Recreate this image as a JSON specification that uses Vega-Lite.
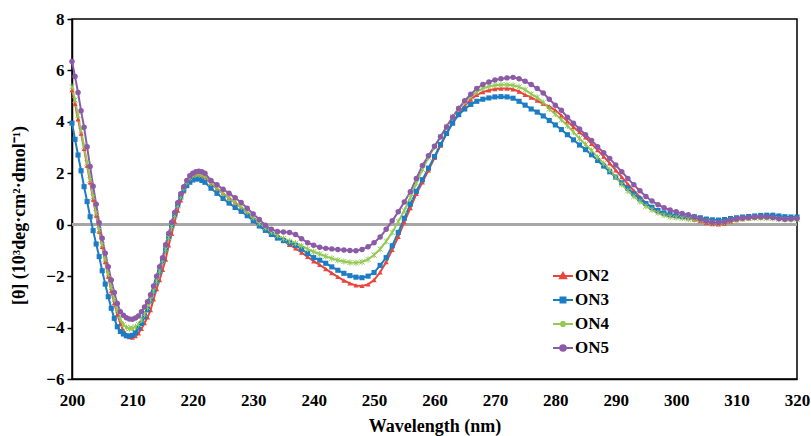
{
  "$schema": "https://vega.github.io/schema/vega-lite/v6.json",
  "width": 725,
  "height": 360,
  "autosize": {"type": "none"},
  "padding": {"left": 72, "top": 19, "right": 14, "bottom": 57},
  "background": "white",
  "config": {
    "view": {"stroke": "black", "strokeWidth": 1.5},
    "font": "Liberation Serif",
    "axis": {"grid": false, "labelFlush": false, "domainColor": "black", "domainWidth": 1.5, "tickColor": "black", "tickWidth": 1.5, "labelFont": "Liberation Serif", "labelFontWeight": "bold", "labelFontSize": 17, "labelColor": "black", "titleFont": "Liberation Serif", "titleFontWeight": "bold", "titleFontSize": 18, "titleColor": "black"}
  },
  "data": {"values": [
    {"w":200,"ON2":5.24,"ON3":3.95,"ON4":5.37,"ON5":6.35},
    {"w":200.5,"ON2":4.70,"ON3":3.32,"ON4":4.85,"ON5":5.76},
    {"w":201,"ON2":4.10,"ON3":2.71,"ON4":4.25,"ON5":5.14},
    {"w":201.5,"ON2":3.55,"ON3":2.10,"ON4":3.65,"ON5":4.43},
    {"w":202,"ON2":2.95,"ON3":1.48,"ON4":3.05,"ON5":3.79},
    {"w":202.5,"ON2":2.30,"ON3":0.90,"ON4":2.40,"ON5":3.03},
    {"w":203,"ON2":1.65,"ON3":0.31,"ON4":1.74,"ON5":2.26},
    {"w":203.5,"ON2":0.98,"ON3":-0.23,"ON4":1.08,"ON5":1.50},
    {"w":204,"ON2":0.36,"ON3":-0.75,"ON4":0.45,"ON5":0.80},
    {"w":204.5,"ON2":-0.27,"ON3":-1.24,"ON4":-0.20,"ON5":0.08},
    {"w":205,"ON2":-0.86,"ON3":-1.79,"ON4":-0.78,"ON5":-0.53},
    {"w":205.5,"ON2":-1.45,"ON3":-2.31,"ON4":-1.35,"ON5":-1.11},
    {"w":206,"ON2":-2.02,"ON3":-2.80,"ON4":-1.92,"ON5":-1.63},
    {"w":206.5,"ON2":-2.58,"ON3":-3.25,"ON4":-2.45,"ON5":-2.15},
    {"w":207,"ON2":-3.05,"ON3":-3.64,"ON4":-2.92,"ON5":-2.64},
    {"w":207.5,"ON2":-3.48,"ON3":-3.97,"ON4":-3.35,"ON5":-3.06},
    {"w":208,"ON2":-3.85,"ON3":-4.15,"ON4":-3.68,"ON5":-3.38},
    {"w":208.5,"ON2":-4.12,"ON3":-4.25,"ON4":-3.88,"ON5":-3.52},
    {"w":209,"ON2":-4.28,"ON3":-4.32,"ON4":-4.00,"ON5":-3.62},
    {"w":209.5,"ON2":-4.37,"ON3":-4.33,"ON4":-4.04,"ON5":-3.67},
    {"w":210,"ON2":-4.39,"ON3":-4.30,"ON4":-4.03,"ON5":-3.68},
    {"w":210.5,"ON2":-4.33,"ON3":-4.20,"ON4":-3.97,"ON5":-3.63},
    {"w":211,"ON2":-4.22,"ON3":-4.02,"ON4":-3.88,"ON5":-3.55},
    {"w":211.5,"ON2":-4.05,"ON3":-3.84,"ON4":-3.70,"ON5":-3.38},
    {"w":212,"ON2":-3.82,"ON3":-3.58,"ON4":-3.48,"ON5":-3.20},
    {"w":212.5,"ON2":-3.60,"ON3":-3.30,"ON4":-3.22,"ON5":-3.00},
    {"w":213,"ON2":-3.32,"ON3":-2.95,"ON4":-2.92,"ON5":-2.72},
    {"w":213.5,"ON2":-2.90,"ON3":-2.60,"ON4":-2.58,"ON5":-2.38},
    {"w":214,"ON2":-2.50,"ON3":-2.22,"ON4":-2.20,"ON5":-2.00},
    {"w":214.5,"ON2":-2.15,"ON3":-1.82,"ON4":-1.80,"ON5":-1.63},
    {"w":215,"ON2":-1.75,"ON3":-1.40,"ON4":-1.38,"ON5":-1.28},
    {"w":215.5,"ON2":-1.35,"ON3":-0.95,"ON4":-0.95,"ON5":-0.78},
    {"w":216,"ON2":-0.80,"ON3":-0.48,"ON4":-0.50,"ON5":-0.34},
    {"w":216.5,"ON2":-0.35,"ON3":-0.05,"ON4":-0.07,"ON5":0.10},
    {"w":217,"ON2":0.12,"ON3":0.38,"ON4":0.36,"ON5":0.48},
    {"w":217.5,"ON2":0.55,"ON3":0.75,"ON4":0.74,"ON5":0.85},
    {"w":218,"ON2":0.95,"ON3":1.08,"ON4":1.10,"ON5":1.20},
    {"w":218.5,"ON2":1.30,"ON3":1.35,"ON4":1.42,"ON5":1.48},
    {"w":219,"ON2":1.55,"ON3":1.52,"ON4":1.66,"ON5":1.72},
    {"w":219.5,"ON2":1.75,"ON3":1.65,"ON4":1.82,"ON5":1.90},
    {"w":220,"ON2":1.87,"ON3":1.74,"ON4":1.92,"ON5":2.00},
    {"w":220.5,"ON2":1.92,"ON3":1.78,"ON4":1.96,"ON5":2.06},
    {"w":221,"ON2":1.92,"ON3":1.78,"ON4":1.96,"ON5":2.08},
    {"w":221.5,"ON2":1.90,"ON3":1.72,"ON4":1.93,"ON5":2.06},
    {"w":222,"ON2":1.85,"ON3":1.65,"ON4":1.88,"ON5":2.00},
    {"w":223,"ON2":1.60,"ON3":1.42,"ON4":1.62,"ON5":1.72},
    {"w":224,"ON2":1.40,"ON3":1.22,"ON4":1.42,"ON5":1.55},
    {"w":225,"ON2":1.22,"ON3":1.02,"ON4":1.22,"ON5":1.38},
    {"w":226,"ON2":1.04,"ON3":0.84,"ON4":1.02,"ON5":1.22},
    {"w":227,"ON2":0.86,"ON3":0.67,"ON4":0.86,"ON5":1.05},
    {"w":228,"ON2":0.67,"ON3":0.52,"ON4":0.69,"ON5":0.86},
    {"w":229,"ON2":0.47,"ON3":0.35,"ON4":0.50,"ON5":0.64},
    {"w":230,"ON2":0.26,"ON3":0.15,"ON4":0.28,"ON5":0.42},
    {"w":231,"ON2":0.05,"ON3":-0.05,"ON4":0.06,"ON5":0.20},
    {"w":232,"ON2":-0.15,"ON3":-0.22,"ON4":-0.12,"ON5":-0.02},
    {"w":233,"ON2":-0.33,"ON3":-0.38,"ON4":-0.28,"ON5":-0.18},
    {"w":234,"ON2":-0.48,"ON3":-0.52,"ON4":-0.42,"ON5":-0.26},
    {"w":235,"ON2":-0.62,"ON3":-0.62,"ON4":-0.54,"ON5":-0.28},
    {"w":236,"ON2":-0.78,"ON3":-0.70,"ON4":-0.64,"ON5":-0.30},
    {"w":237,"ON2":-0.92,"ON3":-0.80,"ON4":-0.72,"ON5":-0.38},
    {"w":238,"ON2":-1.08,"ON3":-0.95,"ON4":-0.82,"ON5":-0.55},
    {"w":239,"ON2":-1.25,"ON3":-1.12,"ON4":-0.95,"ON5":-0.70},
    {"w":240,"ON2":-1.42,"ON3":-1.28,"ON4":-1.05,"ON5":-0.80},
    {"w":241,"ON2":-1.56,"ON3":-1.38,"ON4":-1.14,"ON5":-0.88},
    {"w":242,"ON2":-1.72,"ON3":-1.50,"ON4":-1.23,"ON5":-0.92},
    {"w":243,"ON2":-1.88,"ON3":-1.64,"ON4":-1.31,"ON5":-0.94},
    {"w":244,"ON2":-2.03,"ON3":-1.77,"ON4":-1.38,"ON5":-0.96},
    {"w":245,"ON2":-2.17,"ON3":-1.89,"ON4":-1.43,"ON5":-0.98},
    {"w":246,"ON2":-2.28,"ON3":-1.98,"ON4":-1.47,"ON5":-1.00},
    {"w":247,"ON2":-2.36,"ON3":-2.04,"ON4":-1.48,"ON5":-1.01},
    {"w":248,"ON2":-2.38,"ON3":-2.06,"ON4":-1.45,"ON5":-0.96},
    {"w":249,"ON2":-2.32,"ON3":-2.00,"ON4":-1.35,"ON5":-0.86},
    {"w":250,"ON2":-2.15,"ON3":-1.86,"ON4":-1.18,"ON5":-0.70},
    {"w":251,"ON2":-1.85,"ON3":-1.58,"ON4":-0.95,"ON5":-0.48},
    {"w":252,"ON2":-1.45,"ON3":-1.28,"ON4":-0.65,"ON5":-0.18},
    {"w":253,"ON2":-0.98,"ON3":-0.82,"ON4":-0.30,"ON5":0.15},
    {"w":254,"ON2":-0.47,"ON3":-0.30,"ON4":0.12,"ON5":0.50},
    {"w":255,"ON2":0.10,"ON3":0.25,"ON4":0.55,"ON5":0.88},
    {"w":256,"ON2":0.65,"ON3":0.80,"ON4":1.05,"ON5":1.28},
    {"w":257,"ON2":1.20,"ON3":1.30,"ON4":1.62,"ON5":1.80},
    {"w":258,"ON2":1.65,"ON3":1.75,"ON4":2.15,"ON5":2.30},
    {"w":259,"ON2":2.12,"ON3":2.20,"ON4":2.62,"ON5":2.68},
    {"w":260,"ON2":2.60,"ON3":2.65,"ON4":3.02,"ON5":3.05},
    {"w":261,"ON2":3.08,"ON3":3.12,"ON4":3.42,"ON5":3.42},
    {"w":262,"ON2":3.55,"ON3":3.55,"ON4":3.82,"ON5":3.80},
    {"w":263,"ON2":3.98,"ON3":3.95,"ON4":4.20,"ON5":4.18},
    {"w":264,"ON2":4.33,"ON3":4.28,"ON4":4.52,"ON5":4.52},
    {"w":265,"ON2":4.62,"ON3":4.50,"ON4":4.78,"ON5":4.82},
    {"w":266,"ON2":4.87,"ON3":4.68,"ON4":4.98,"ON5":5.07},
    {"w":267,"ON2":5.05,"ON3":4.80,"ON4":5.17,"ON5":5.30},
    {"w":268,"ON2":5.16,"ON3":4.88,"ON4":5.30,"ON5":5.45},
    {"w":269,"ON2":5.23,"ON3":4.93,"ON4":5.38,"ON5":5.55},
    {"w":270,"ON2":5.28,"ON3":4.97,"ON4":5.42,"ON5":5.63},
    {"w":271,"ON2":5.30,"ON3":4.98,"ON4":5.44,"ON5":5.68},
    {"w":272,"ON2":5.30,"ON3":4.97,"ON4":5.44,"ON5":5.71},
    {"w":273,"ON2":5.27,"ON3":4.92,"ON4":5.42,"ON5":5.73},
    {"w":274,"ON2":5.18,"ON3":4.80,"ON4":5.36,"ON5":5.68},
    {"w":275,"ON2":5.05,"ON3":4.65,"ON4":5.25,"ON5":5.58},
    {"w":276,"ON2":4.95,"ON3":4.50,"ON4":5.08,"ON5":5.45},
    {"w":277,"ON2":4.83,"ON3":4.38,"ON4":4.95,"ON5":5.30},
    {"w":278,"ON2":4.70,"ON3":4.23,"ON4":4.75,"ON5":5.12},
    {"w":279,"ON2":4.60,"ON3":4.05,"ON4":4.50,"ON5":4.88},
    {"w":280,"ON2":4.45,"ON3":3.88,"ON4":4.30,"ON5":4.65},
    {"w":281,"ON2":4.25,"ON3":3.70,"ON4":4.08,"ON5":4.45},
    {"w":282,"ON2":4.02,"ON3":3.50,"ON4":3.85,"ON5":4.18},
    {"w":283,"ON2":3.80,"ON3":3.30,"ON4":3.60,"ON5":3.95},
    {"w":284,"ON2":3.60,"ON3":3.10,"ON4":3.35,"ON5":3.72},
    {"w":285,"ON2":3.40,"ON3":2.92,"ON4":3.12,"ON5":3.50},
    {"w":286,"ON2":3.15,"ON3":2.72,"ON4":2.88,"ON5":3.28},
    {"w":287,"ON2":2.90,"ON3":2.50,"ON4":2.62,"ON5":3.03},
    {"w":288,"ON2":2.65,"ON3":2.28,"ON4":2.38,"ON5":2.80},
    {"w":289,"ON2":2.39,"ON3":2.06,"ON4":2.13,"ON5":2.58},
    {"w":290,"ON2":2.12,"ON3":1.85,"ON4":1.85,"ON5":2.32},
    {"w":291,"ON2":1.85,"ON3":1.63,"ON4":1.57,"ON5":2.06},
    {"w":292,"ON2":1.58,"ON3":1.42,"ON4":1.32,"ON5":1.80},
    {"w":293,"ON2":1.32,"ON3":1.20,"ON4":1.10,"ON5":1.55},
    {"w":294,"ON2":1.08,"ON3":1.00,"ON4":0.90,"ON5":1.32},
    {"w":295,"ON2":0.85,"ON3":0.82,"ON4":0.72,"ON5":1.10},
    {"w":296,"ON2":0.65,"ON3":0.68,"ON4":0.58,"ON5":0.92},
    {"w":297,"ON2":0.52,"ON3":0.55,"ON4":0.46,"ON5":0.78},
    {"w":298,"ON2":0.44,"ON3":0.46,"ON4":0.37,"ON5":0.66},
    {"w":299,"ON2":0.38,"ON3":0.40,"ON4":0.31,"ON5":0.57},
    {"w":300,"ON2":0.34,"ON3":0.36,"ON4":0.28,"ON5":0.50},
    {"w":301,"ON2":0.30,"ON3":0.33,"ON4":0.25,"ON5":0.44},
    {"w":302,"ON2":0.26,"ON3":0.32,"ON4":0.22,"ON5":0.39},
    {"w":303,"ON2":0.20,"ON3":0.31,"ON4":0.20,"ON5":0.30},
    {"w":304,"ON2":0.14,"ON3":0.27,"ON4":0.18,"ON5":0.22},
    {"w":305,"ON2":0.07,"ON3":0.22,"ON4":0.13,"ON5":0.14},
    {"w":306,"ON2":0.03,"ON3":0.19,"ON4":0.08,"ON5":0.10},
    {"w":307,"ON2":0.02,"ON3":0.18,"ON4":0.07,"ON5":0.09},
    {"w":308,"ON2":0.05,"ON3":0.20,"ON4":0.10,"ON5":0.12},
    {"w":309,"ON2":0.12,"ON3":0.24,"ON4":0.15,"ON5":0.18},
    {"w":310,"ON2":0.18,"ON3":0.27,"ON4":0.20,"ON5":0.23},
    {"w":311,"ON2":0.22,"ON3":0.30,"ON4":0.23,"ON5":0.26},
    {"w":312,"ON2":0.25,"ON3":0.32,"ON4":0.25,"ON5":0.28},
    {"w":313,"ON2":0.27,"ON3":0.34,"ON4":0.26,"ON5":0.30},
    {"w":314,"ON2":0.28,"ON3":0.36,"ON4":0.26,"ON5":0.31},
    {"w":315,"ON2":0.30,"ON3":0.37,"ON4":0.25,"ON5":0.30},
    {"w":316,"ON2":0.31,"ON3":0.37,"ON4":0.24,"ON5":0.28},
    {"w":317,"ON2":0.28,"ON3":0.34,"ON4":0.22,"ON5":0.23},
    {"w":318,"ON2":0.25,"ON3":0.31,"ON4":0.20,"ON5":0.21},
    {"w":319,"ON2":0.25,"ON3":0.30,"ON4":0.20,"ON5":0.22},
    {"w":320,"ON2":0.26,"ON3":0.30,"ON4":0.21,"ON5":0.24}
  ]},
  "layer": [
    {
      "mark": {"type": "rule", "color": "#a6a6a6", "strokeWidth": 2},
      "encoding": {
        "y": {"datum": 0, "type": "quantitative", "scale": {"domain": [-6, 8], "nice": false},
          "axis": {"values": [-6, -4, -2, 0, 2, 4, 6, 8], "title": "[θ] (10³deg·cm²·dmol⁻¹)", "tickSize": 5, "labelPadding": 3, "titleX": -44, "titleY": 196}}
      }
    },
    {
      "transform": [{"fold": ["ON2", "ON3", "ON4", "ON5"], "as": ["s", "v"]}],
      "mark": {"type": "line", "strokeWidth": 2},
      "encoding": {
        "x": {"field": "w", "type": "quantitative", "scale": {"domain": [200, 320], "nice": false},
          "axis": {"values": [200, 210, 220, 230, 240, 250, 260, 270, 280, 290, 300, 310, 320], "title": "Wavelength (nm)", "tickSize": 0, "labelPadding": 13, "titlePadding": 9, "format": "d"}},
        "y": {"field": "v", "type": "quantitative", "scale": {"domain": [-6, 8], "nice": false},
          "axis": {"values": [-6, -4, -2, 0, 2, 4, 6, 8], "title": "[θ] (10³deg·cm²·dmol⁻¹)", "tickSize": 5, "labelPadding": 3, "titleX": -44, "titleY": 196}},
        "color": {"field": "s", "type": "nominal",
          "scale": {"domain": ["ON2", "ON3", "ON4", "ON5"], "range": ["#e8453c", "#1c7cc4", "#94c955", "#8c5ba8"]},
          "legend": {
            "orient": "none", "legendX": 480, "legendY": 246, "title": null, "padding": 0,
            "labelFont": "Liberation Serif", "labelFontSize": 17, "labelFontWeight": "bold", "labelColor": "black",
            "symbolSize": 400, "symbolStrokeWidth": 2, "rowPadding": 5, "labelOffset": 1,
            "encode": {"symbols": {"update": {
              "shape": {"signal": "datum.value === 'ON2' ? 'M-1,0H1M0,-0.3L0.3,0.22L-0.3,0.22Z' : datum.value === 'ON3' ? 'M-1,0H1M-0.25,-0.25H0.25V0.25H-0.25Z' : datum.value === 'ON4' ? 'M-1,0H1M-0.22,-0.22L0.22,0.22M0.22,-0.22L-0.22,0.22M0,-0.3V0.3' : 'M-1,0H1M-0.28,0A0.28,0.28,0,1,0,0.28,0A0.28,0.28,0,1,0,-0.28,0Z'"},
              "fill": {"signal": "datum.value === 'ON2' ? '#e8453c' : datum.value === 'ON3' ? '#1c7cc4' : datum.value === 'ON4' ? '#94c955' : '#8c5ba8'"},
              "stroke": {"signal": "datum.value === 'ON2' ? '#e8453c' : datum.value === 'ON3' ? '#1c7cc4' : datum.value === 'ON4' ? '#94c955' : '#8c5ba8'"},
              "opacity": {"value": 1}
            }}}
          }
        }
      }
    },
    {
      "transform": [{"fold": ["ON2"], "as": ["s", "v"]}],
      "mark": {"type": "point", "shape": "triangle-up", "filled": true, "size": 26, "opacity": 1, "color": "#e8453c"},
      "encoding": {"x": {"field": "w", "type": "quantitative"}, "y": {"field": "v", "type": "quantitative"}}
    },
    {
      "transform": [{"fold": ["ON3"], "as": ["s", "v"]}],
      "mark": {"type": "point", "shape": "square", "filled": true, "size": 26, "opacity": 1, "color": "#1c7cc4"},
      "encoding": {"x": {"field": "w", "type": "quantitative"}, "y": {"field": "v", "type": "quantitative"}}
    },
    {
      "transform": [{"fold": ["ON4"], "as": ["s", "v"]}],
      "mark": {"type": "point", "shape": "M-1,-1L1,1M1,-1L-1,1M0,-1.2V1.2", "filled": false, "size": 26, "opacity": 1, "strokeWidth": 1, "color": "#94c955"},
      "encoding": {"x": {"field": "w", "type": "quantitative"}, "y": {"field": "v", "type": "quantitative"}}
    },
    {
      "transform": [{"fold": ["ON5"], "as": ["s", "v"]}],
      "mark": {"type": "point", "shape": "circle", "filled": true, "size": 30, "opacity": 1, "color": "#8c5ba8"},
      "encoding": {"x": {"field": "w", "type": "quantitative"}, "y": {"field": "v", "type": "quantitative"}}
    }
  ]
}
